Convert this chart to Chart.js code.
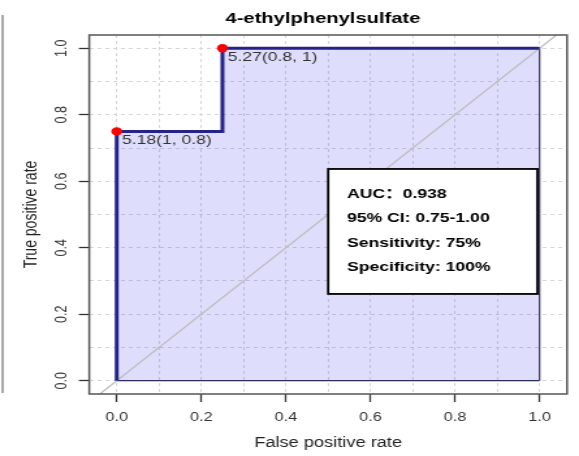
<!DOCTYPE html>
<html lang="en">
<head>
<meta charset="utf-8">
<style>
    html, body { margin: 0; padding: 0; background: #fff; }
    canvas { display: block; }
</style>
</head>
<body>
<!-- the source picture is stretched sideways, so draw it narrow and let css widen it -->
<canvas id="rocChart" width="445" height="456" style="width:579px;height:456px"></canvas>

<script src="https://cdn.jsdelivr.net/npm/chart.js@4"></script>
<script>
    const titleText = '4-ethylphenylsulfate'
    const xTitle = 'False positive rate'
    const yTitle = 'True positive rate'

    // ROC steps
    const fpr = [0, 0, 0.25, 0.25, 1]
    const tpr = [0, 0.75, 0.75, 1, 1]

    // auc polygon (filled down to 0), its bottom edge drawn apart
    const polyX = [0, 0, 0.25, 0.25, 1, 1]
    const polyY = [0, 0.75, 0.75, 1, 1, 0]
    const baseX = [0, 1]
    const baseY = [0, 0]

    // best cutoffs
    const cutX = [0, 0.25]
    const cutY = [0.75, 1]
    const cutLabels = ['5.18(1, 0.8)', '5.27(0.8, 1)']

    // chance line
    const diagX = [-0.2, 1.2]
    const diagY = [-0.2, 1.2]

    const gridValues = [0, 0.1, 0.2, 0.3, 0.4, 0.5, 0.6, 0.7, 0.8, 0.9, 1]
    const tickValues = [0, 0.2, 0.4, 0.6, 0.8, 1]
    const tickLabels = ['0.0', '0.2', '0.4', '0.6', '0.8', '1.0']

    const infoLines = ['AUC：0.938', '95% CI: 0.75-1.00', 'Sensitivity: 75%', 'Specificity: 100%']

    const FONT = '"Liberation Sans", Arial, sans-serif'
    Chart.defaults.font.family = FONT

    const pts = (xs, ys) => xs.map((x, i) => ({x: x, y: ys[i]}))
    const tickIndex = v => tickValues.findIndex(t => Math.abs(t - v) < 1e-6)
    const tickLabel = v => tickIndex(v) < 0 ? '' : tickLabels[tickIndex(v)]
    const tickColor = c => c.tick && tickIndex(c.tick.value) >= 0 ? '#333' : 'rgba(0,0,0,0)'
    const useGrid = s => { s.ticks = gridValues.map(v => ({value: v})) }

    const rocDecor = {
        id: 'rocDecor',
        afterDatasetsDraw(chart) {
            const {ctx, chartArea: a, scales: {x, y}} = chart
            ctx.save()

            // R style box round the plot region
            ctx.strokeStyle = '#555'
            ctx.lineWidth = 1.5
            ctx.strokeRect(a.left, a.top, a.right - a.left, a.bottom - a.top)

            ctx.fillStyle = '#000'
            ctx.font = 'bold 15.5px ' + FONT
            ctx.textAlign = 'center'
            ctx.textBaseline = 'middle'
            ctx.fillText(titleText, (a.left + a.right) / 2 - 4, 19)

            // cutoff labels, just below right of each red point
            ctx.fillStyle = '#333'
            ctx.font = '13.5px ' + FONT
            ctx.textAlign = 'left'
            cutLabels.forEach((t, i) => {
                ctx.fillText(t, x.getPixelForValue(cutX[i]) + 4, y.getPixelForValue(cutY[i]) + 8.5)
            })

            // info box
            const bx1 = x.getPixelForValue(0.5), bx2 = x.getPixelForValue(0.995)
            const by1 = y.getPixelForValue(0.637), by2 = y.getPixelForValue(0.261)
            ctx.fillStyle = '#fff'
            ctx.fillRect(bx1, by1, bx2 - bx1, by2 - by1)
            ctx.strokeStyle = '#000'
            ctx.lineWidth = 1.8
            ctx.strokeRect(bx1, by1, bx2 - bx1, by2 - by1)
            ctx.fillStyle = '#000'
            ctx.font = 'bold 13.5px "Liberation Sans", "Noto Sans CJK SC", sans-serif'
            const tx = x.getPixelForValue(0.545)
            const ty = y.getPixelForValue(0.562)
            infoLines.forEach((t, i) => ctx.fillText(t, tx, ty + i * 24.6))

            // edge of the neighbouring panel
            ctx.strokeStyle = '#8a8a8a'
            ctx.lineWidth = 1.5
            ctx.beginPath()
            ctx.moveTo(2, 15)
            ctx.lineTo(2, 393)
            ctx.stroke()

            ctx.restore()
        }
    }

    const ctx = document.getElementById('rocChart')
    let chart = new Chart(ctx, {
        type: 'scatter',
        data: {
            datasets: [{
                data: pts(cutX, cutY),
                order: 0,
                pointRadius: 4.2,
                pointBackgroundColor: '#f00',
                pointBorderWidth: 0
            }, {
                data: pts(fpr, tpr),
                order: 1,
                showLine: true,
                borderColor: '#23238a',
                borderWidth: 3,
                pointRadius: 0
            }, {
                data: pts(diagX, diagY),
                order: 2,
                showLine: true,
                borderColor: '#bdbdbd',
                borderWidth: 1.3,
                pointRadius: 0
            }, {
                data: pts(baseX, baseY),
                order: 3,
                showLine: true,
                borderColor: '#2b2b5c',
                borderWidth: 1.2,
                pointRadius: 0
            }, {
                data: pts(polyX, polyY),
                order: 4,
                showLine: true,
                fill: 'origin',
                backgroundColor: 'rgba(70,70,240,0.18)',
                borderColor: '#2b2b5c',
                borderWidth: 1.2,
                pointRadius: 0
            }]
        },
        options: {
            responsive: false,
            animation: false,
            layout: {padding: {left: 15.4, right: 9.2, top: 35, bottom: 0}},
            plugins: {
                legend: {display: false},
                tooltip: {enabled: false}
            },
            scales: {
                x: {
                    type: 'linear',
                    min: -0.065,
                    max: 1.065,
                    afterBuildTicks: useGrid,
                    afterFit: s => { s.height = 62 },
                    grid: {color: '#d6d6d6', lineWidth: 1, tickLength: 8, tickWidth: 1.3, tickColor: tickColor},
                    border: {display: false, dash: [3, 3]},
                    ticks: {autoSkip: false, maxRotation: 0, padding: 8.5, color: '#333', font: {size: 12.5}, callback: v => tickLabel(v)},
                    title: {display: true, text: xTitle, color: '#222', font: {size: 14}, padding: {top: 0, bottom: 4.6}}
                },
                y: {
                    type: 'linear',
                    min: -0.04,
                    max: 1.04,
                    afterBuildTicks: useGrid,
                    afterFit: s => { s.width = 53.2 },
                    grid: {color: '#d6d6d6', lineWidth: 1, tickLength: 8, tickWidth: 1.3, tickColor: tickColor},
                    border: {display: false, dash: [3, 3]},
                    ticks: {autoSkip: false, minRotation: 90, maxRotation: 90, crossAlign: 'center', padding: 4.6, color: '#333', font: {size: 12.5}, callback: v => tickLabel(v)},
                    title: {display: true, text: yTitle, color: '#222', font: {size: 14}, padding: 0}
                }
            }
        },
        plugins: [rocDecor]
    })
</script>
</body>
</html>
